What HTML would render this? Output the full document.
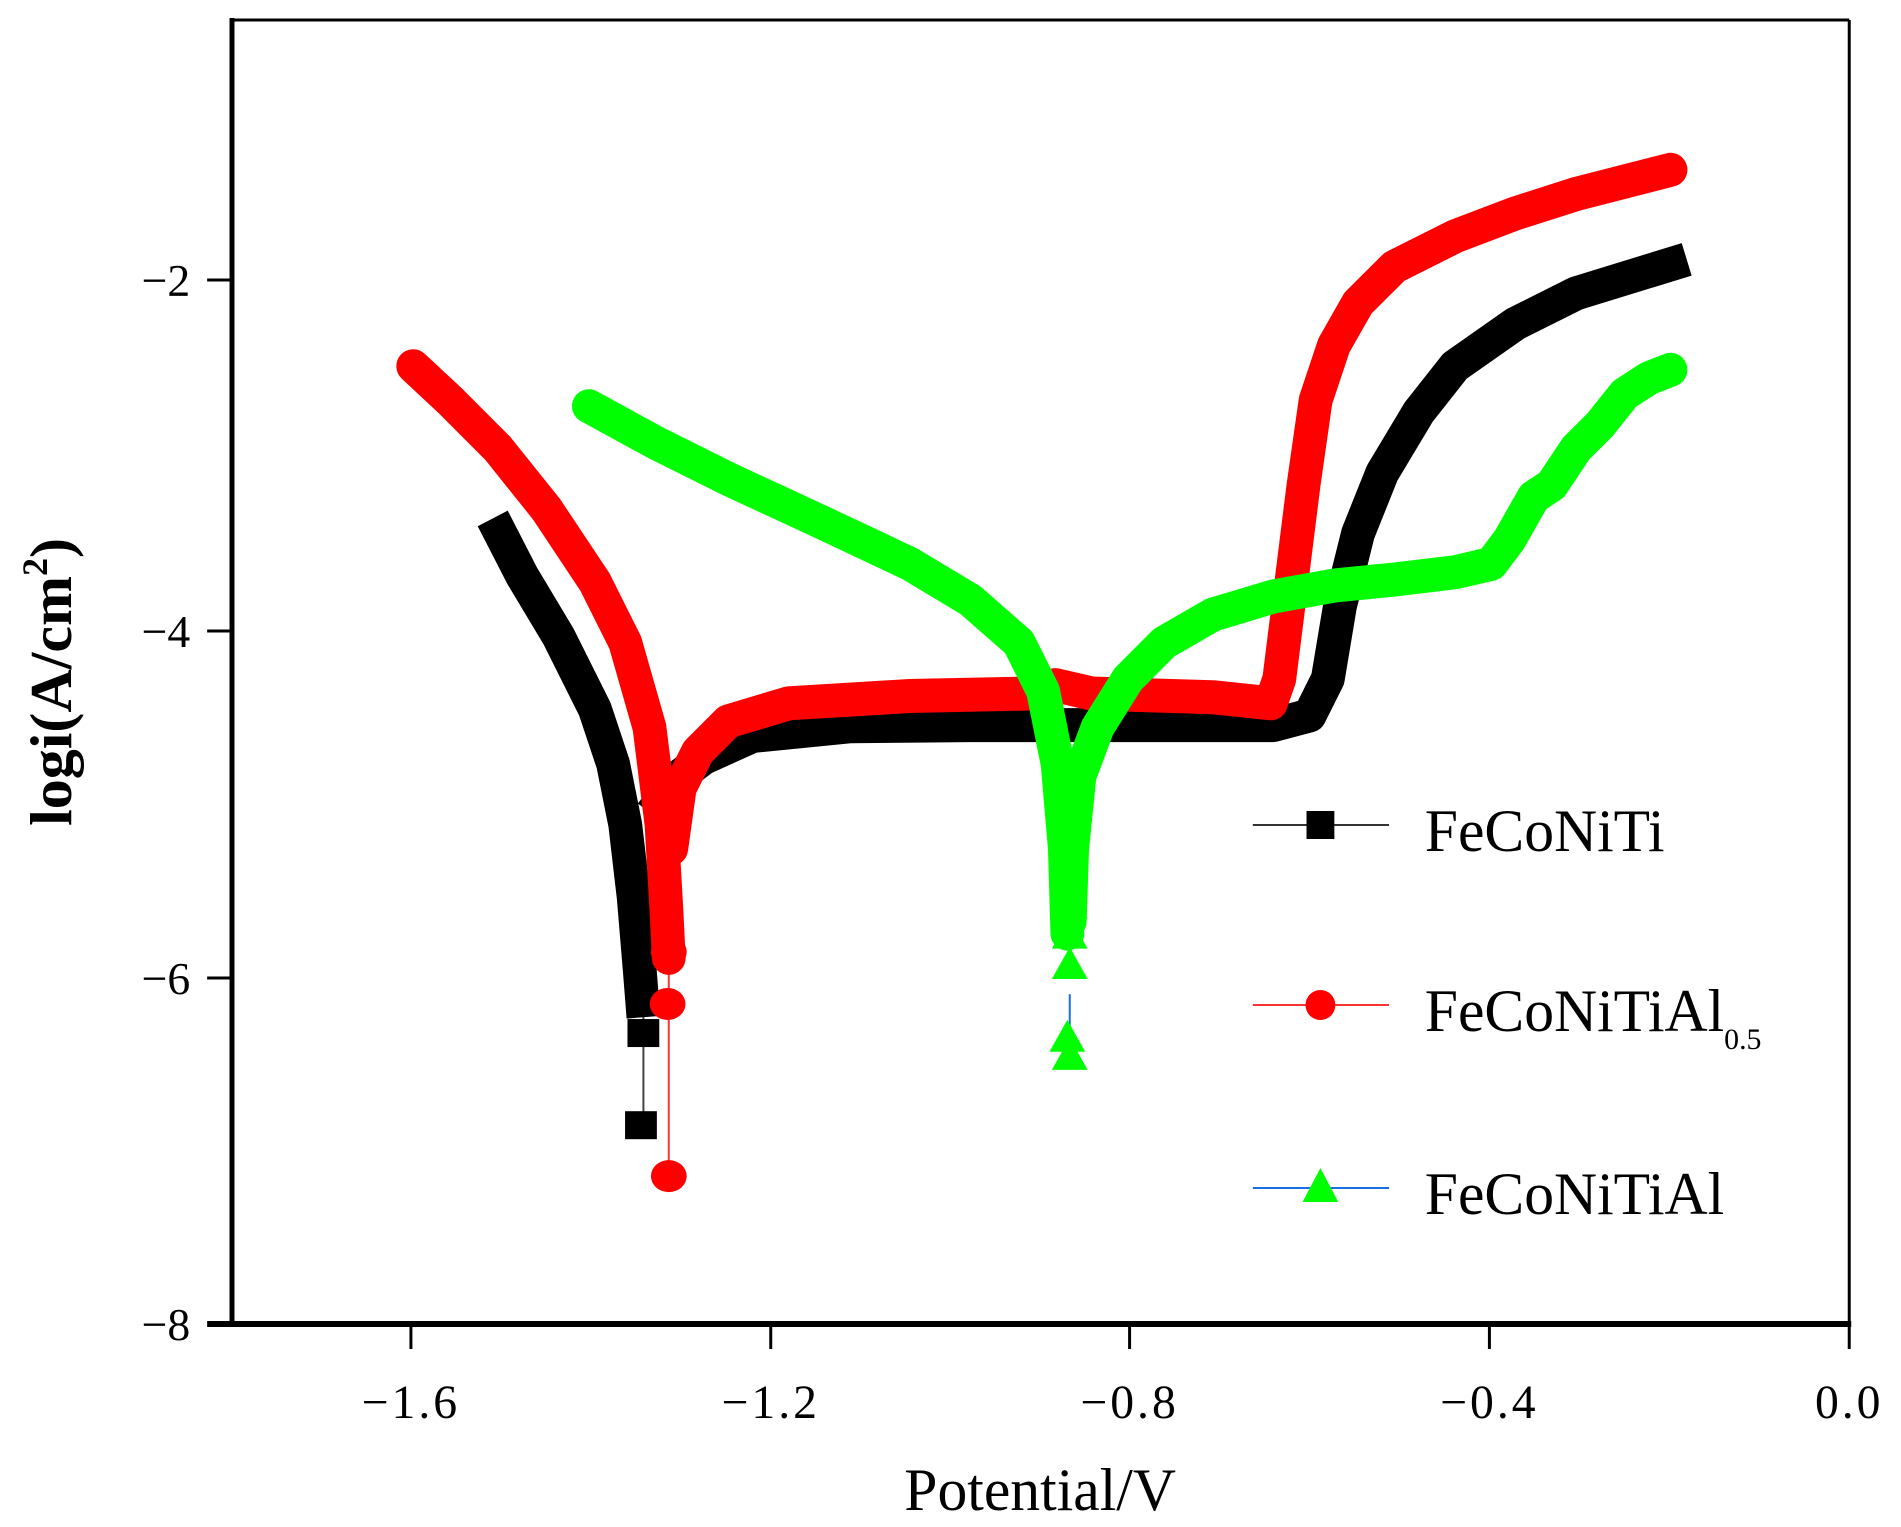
<!DOCTYPE html>
<html><head><meta charset="utf-8">
<style>
html,body{margin:0;padding:0;background:#fff;}
svg{display:block;}
text{font-family:"Liberation Serif",serif;fill:#000;}
</style></head>
<body>
<svg id="s" width="1901" height="1527" viewBox="0 0 1901 1527" xmlns="http://www.w3.org/2000/svg">
<rect width="1901" height="1527" fill="#fff"/>
<g transform="translate(232,0) scale(0.994,1) translate(-232,0)">
<g id="data"></g>
<line x1="232" y1="20" x2="1859" y2="20" stroke="#000" stroke-width="3"/>
<line x1="1859" y1="20" x2="1859" y2="1324" stroke="#000" stroke-width="3"/>
<line x1="232" y1="18" x2="232" y2="1326" stroke="#000" stroke-width="5"/>
<line x1="207" y1="1324" x2="1861" y2="1324" stroke="#000" stroke-width="6"/>
<g stroke="#000" stroke-width="3">
<line x1="207" y1="280" x2="232" y2="280"/>
<line x1="207" y1="631" x2="232" y2="631"/>
<line x1="207" y1="978" x2="232" y2="978"/>
<line x1="412" y1="1324" x2="412" y2="1349"/>
<line x1="774" y1="1324" x2="774" y2="1349"/>
<line x1="1135" y1="1324" x2="1135" y2="1349"/>
<line x1="1497" y1="1324" x2="1497" y2="1349"/>
<line x1="1859" y1="1324" x2="1859" y2="1349"/>
</g>
<g font-size="46" text-anchor="end">
<text x="190" y="296">−2</text>
<text x="190" y="647">−4</text>
<text x="190" y="994">−6</text>
<text x="190" y="1340">−8</text>
</g>
<g font-size="48" text-anchor="middle" letter-spacing="3">
<text x="412" y="1418">−1.6</text>
<text x="774" y="1418">−1.2</text>
<text x="1135" y="1418">−0.8</text>
<text x="1497" y="1418">−0.4</text>
<text x="1859" y="1418">0.0</text>
</g>
<text x="1045" y="1510" font-size="60" text-anchor="middle">Potential/V</text>
<text transform="translate(70,682) rotate(-90)" font-size="60" font-weight="bold" text-anchor="middle">logi(A/cm<tspan font-size="36" dy="-24">2</tspan><tspan dy="24">)</tspan></text>
<line x1="1259" y1="825" x2="1396" y2="825" stroke="#333" stroke-width="2"/>
<rect x="1313" y="811" width="28" height="28" fill="#000"/>
<text x="1432" y="851" font-size="60">FeCoNiTi</text>
<line x1="1259" y1="1005" x2="1396" y2="1005" stroke="#f33" stroke-width="2"/>
<circle cx="1327" cy="1005" r="15" fill="#f00"/>
<text x="1432" y="1031" font-size="60">FeCoNiTiAl<tspan font-size="30" dy="18">0.5</tspan></text>
<line x1="1259" y1="1188" x2="1396" y2="1188" stroke="#1a6fe0" stroke-width="2"/>
<polygon points="1327,1168 1309,1202 1345,1202" fill="#0f0"/>
<text x="1432" y="1214" font-size="60">FeCoNiTiAl</text>
</g>
</svg>
<script>
var SX=1.2186, SY=1.2125, NS="http://www.w3.org/2000/svg";
var g=document.getElementById('data');
function P(a){return a.map(function(p){return (p[0]*SX).toFixed(1)+','+(p[1]*SY).toFixed(1);}).join(' ');}
function poly(pts,col,w,cap){var e=document.createElementNS(NS,'polyline');e.setAttribute('points',P(pts));e.setAttribute('fill','none');e.setAttribute('stroke',col);e.setAttribute('stroke-width',w);e.setAttribute('stroke-linejoin','round');e.setAttribute('stroke-linecap',cap);g.appendChild(e);}
function sq(x,y){var e=document.createElementNS(NS,'rect');e.setAttribute('x',x*SX-16);e.setAttribute('y',y*SY-14);e.setAttribute('width',32);e.setAttribute('height',28);e.setAttribute('fill','#000');g.appendChild(e);}
function ci(x,y){var e=document.createElementNS(NS,'ellipse');e.setAttribute('cx',x*SX);e.setAttribute('cy',y*SY);e.setAttribute('rx',18);e.setAttribute('ry',16);e.setAttribute('fill','#f00');g.appendChild(e);}
function tr(x,y){var e=document.createElementNS(NS,'polygon');var X=x*SX,Y=y*SY;e.setAttribute('points',X+','+(Y-17)+' '+(X-18)+','+(Y+15)+' '+(X+18)+','+(Y+15));e.setAttribute('fill','#0f0');g.appendChild(e);}
var W=34;
poly([[530,830],[530,928]],'#444',2,'butt');
poly([[412,440],[430,475],[460,525],[490,585],[505,630],[515,680],[522,740],[527,800],[529,825]],'#000',W,'square');
poly([[545,660],[560,640],[580,625],[620,607],[700,599],[800,598],[900,598],[1050,598],[1080,590],[1095,560],[1105,500],[1120,440],[1140,390],[1170,340],[1200,302],[1250,267],[1300,242],[1378,218]],'#000',W,'square');
sq(530,852);sq(528,928);
poly([[551,785],[551,970]],'#f33',2,'butt');
poly([[340,302],[370,330],[410,370],[450,420],[490,480],[515,530],[535,600],[545,680],[549,750],[551,790]],'#f00',W,'round');
poly([[553,700],[560,650],[575,620],[600,595],[650,580],[750,574],[850,572],[870,565],[900,572],[1000,575],[1048,580],[1055,560],[1065,480],[1075,400],[1085,330],[1100,285],[1120,250],[1150,220],[1200,195],[1250,176],[1300,160],[1378,140]],'#f00',W,'round');
ci(551,785);ci(550,828);ci(551,970);
poly([[882,820],[882,870]],'#1a6fe0',2,'butt');
poly([[485,335],[540,365],[600,395],[680,432],[750,465],[800,495],[840,530],[860,570],[872,630],[878,700],[880,770]],'#0f0',W,'round');
poly([[882,760],[884,700],[890,640],[905,600],[930,560],[960,530],[1000,507],[1050,492],[1100,483],[1150,478],[1200,472],[1230,465],[1245,445],[1265,410],[1280,400],[1300,370],[1320,350],[1340,325],[1360,312],[1378,305]],'#0f0',W,'round');
tr(882,745);tr(882,770);tr(882,795);tr(880,855);tr(882,870);
</script>
</body></html>
